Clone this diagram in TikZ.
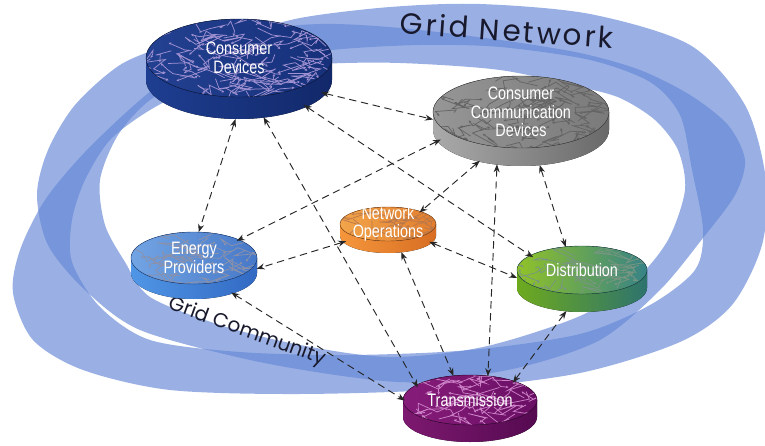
\documentclass[tikz,border=0pt]{standalone}
\usepackage{fontspec}
\usepackage{tikz}
\usetikzlibrary{arrows.meta, shapes.geometric}
\newfontfamily\gridfont[LetterSpace=9]{Poppins}
\newfontfamily\ringfont{Poppins}
\newfontfamily\labelfont[FakeStretch=0.8]{Liberation Sans}
\definecolor{bandblue}{RGB}{100,135,215}
\definecolor{ringink}{RGB}{25,25,45}
\definecolor{cdtopl}{RGB}{35,65,145}   \definecolor{cdtopr}{RGB}{22,48,122}
\definecolor{cdsidel}{RGB}{30,62,145}  \definecolor{cdsider}{RGB}{18,40,105}
\definecolor{cdline}{RGB}{160,145,210}
\definecolor{ccdtopl}{RGB}{150,150,150}  \definecolor{ccdtopr}{RGB}{122,122,122}
\definecolor{ccdsidel}{RGB}{170,170,170} \definecolor{ccdsider}{RGB}{105,105,105}
\definecolor{ccdline}{RGB}{100,100,100}
\definecolor{netopstopl}{RGB}{242,165,75}  \definecolor{netopstopr}{RGB}{225,125,45}
\definecolor{netopssidel}{RGB}{245,150,60} \definecolor{netopssider}{RGB}{215,110,35}
\definecolor{netopsline}{RGB}{185,120,75}
\definecolor{eptopl}{RGB}{115,165,228}  \definecolor{eptopr}{RGB}{70,120,200}
\definecolor{epsidel}{RGB}{80,150,230}  \definecolor{epsider}{RGB}{50,105,195}
\definecolor{epline}{RGB}{140,145,170}
\definecolor{disttopl}{RGB}{145,195,40}  \definecolor{disttopr}{RGB}{55,130,135}
\definecolor{distsidel}{RGB}{110,170,30} \definecolor{distsider}{RGB}{45,115,110}
\definecolor{distline}{RGB}{120,150,130}
\definecolor{transtopl}{RGB}{135,28,122}  \definecolor{transtopr}{RGB}{105,15,100}
\definecolor{transsidel}{RGB}{125,25,112} \definecolor{transsider}{RGB}{85,10,80}
\definecolor{transline}{RGB}{205,130,200}

\begin{document}
\begin{tikzpicture}[x=0.75pt, y=-0.75pt,
    band/.style={fill=bandblue, fill opacity=0.65, even odd rule},
    ringtext/.style={text=ringink, inner sep=0pt},
    diskarea/.style={ellipse, inner sep=0pt, outer sep=0pt},
    disktext/.style={font=\labelfont\fontsize{13.5}{14}\selectfont, text=white, align=center, inner sep=0pt},
    dlink/.style={draw=black!85, line width=.7pt, dash pattern=on 5.5pt off 3.5pt,
      {Stealth[length=6pt,width=4.5pt]}-{Stealth[length=6pt,width=4.5pt]}}]
    \useasboundingbox (0,0) rectangle (765,446);
    \fill[white] (0,0) rectangle (765,446);
    \pgfmathsetseed{11}

    % disk: name, x, y, x radius, y radius, rim height, colour prefix, text
    \def\disk#1#2#3#4#5#6#7#8{%
        \fill[left color=#7sidel, right color=#7sider]
            (#2-#4,#3) -- ++(0,#6)
            arc[start angle=180, end angle=360, x radius=#4*.75pt, y radius=#5*.75pt]
            -- ++(0,-#6)
            arc[start angle=0, end angle=-180, x radius=#4*.75pt, y radius=#5*.75pt] -- cycle;
        \fill[left color=#7topl, right color=#7topr]
            (#2,#3) ellipse[x radius=#4*.75pt, y radius=#5*.75pt];
        \begin{scope}
            \clip (#2,#3) ellipse[x radius=#4*.75pt, y radius=#5*.75pt];
            \pgfmathtruncatemacro\ntex{#4*#5/32}
            \foreach \k in {1,...,\ntex}
                \draw[#7line, line width=.55pt, -{Stealth[length=2pt,width=2pt]}]
                    (#2+rand*#4,#3+rand*#5) -- ++(rand*22,rand*10) -- ++(rand*22,rand*10) -- ++(rand*18,rand*8);
        \end{scope}
        \draw[#7sider!60!black, line width=.3pt] (#2,#3) ellipse[x radius=#4*.75pt, y radius=#5*.75pt];
        \node[diskarea, minimum width=#4*1.5pt, minimum height=(2*#5+#6)*.75pt,
            label={[disktext, yshift=#6*.375pt]center:#8}] (#1) at (#2,#3+#6/2) {};
    }

    % the two rings
    \fill[band] plot[smooth cycle] coordinates {(13,293) (20,250) (45,200) (85,152) (140,100) (190,62) (240,36) (300,18) (390,7) (480,4) (590,14) (690,45) (745,105) (766,180) (762,245) (732,305) (680,342) (580,373) (450,389) (300,394) (170,390) (83,370) (33,340)}
        plot[smooth cycle] coordinates {(72,262) (72,220) (85,180) (110,140) (150,110) (200,85) (260,62) (332,50) (420,45) (500,47) (590,60) (650,82) (680,115) (692,170) (703,230) (695,270) (650,305) (580,334) (470,350) (350,355) (240,352) (150,340) (100,307)};
    \fill[band] plot[smooth cycle] coordinates {(37,195) (48,245) (85,290) (140,330) (250,360) (350,377) (420,382) (517,368) (600,340) (660,290) (703,238) (735,195) (745,160) (728,125) (690,95) (640,70) (580,53) (500,40) (400,28) (320,24) (230,32) (170,45) (120,65) (75,105) (48,150)}
        plot[smooth cycle] coordinates {(100,180) (105,225) (125,262) (150,297) (220,325) (300,345) (390,357) (483,347) (580,316) (635,280) (668,240) (685,190) (678,150) (655,120) (620,98) (580,87) (500,70) (400,63) (320,64) (240,72) (190,82) (150,100) (118,135)};

    \node[ringtext, font=\gridfont\fontsize{22}{22}\selectfont, rotate=-4] (gnet) at (507,30) {Grid Network};
    \node[ringtext, font=\ringfont\fontsize{15}{15}\selectfont, rotate=-20] (gcom) at (247,332) {Grid Community};

    \disk{cd}{239}{58}{93}{39}{22}{cd}{Consumer\\Devices}
    \disk{ccd}{521}{112}{88}{36}{18}{ccd}{Consumer\\Communication\\Devices}
    \disk{ep}{194}{258}{63}{26}{15}{ep}{Energy\\Providers}
    \disk{netops}{388}{224}{48}{17}{12}{netops}{Network\\Operations}
    \disk{dist}{582}{270}{65}{24}{18}{dist}{Distribution}
    \disk{trans}{470}{400}{67}{25}{17}{trans}{Transmission}

    \foreach \a/\b in {cd.-16/ccd.179, cd.-29/dist.156, cd.-94/ep.82, cd.-63/trans.158,
        ccd.193/ep.30, ccd.224/netops.29, ccd.-67/dist.117, ccd.-119/trans.61,
        netops.195/ep.-3, netops.-16/dist.179, netops.-59/trans.117,
        ep.-36/trans.173, dist.-116/trans.31}
        \draw[dlink] (\a) -- (\b);
\end{tikzpicture}
\end{document}
